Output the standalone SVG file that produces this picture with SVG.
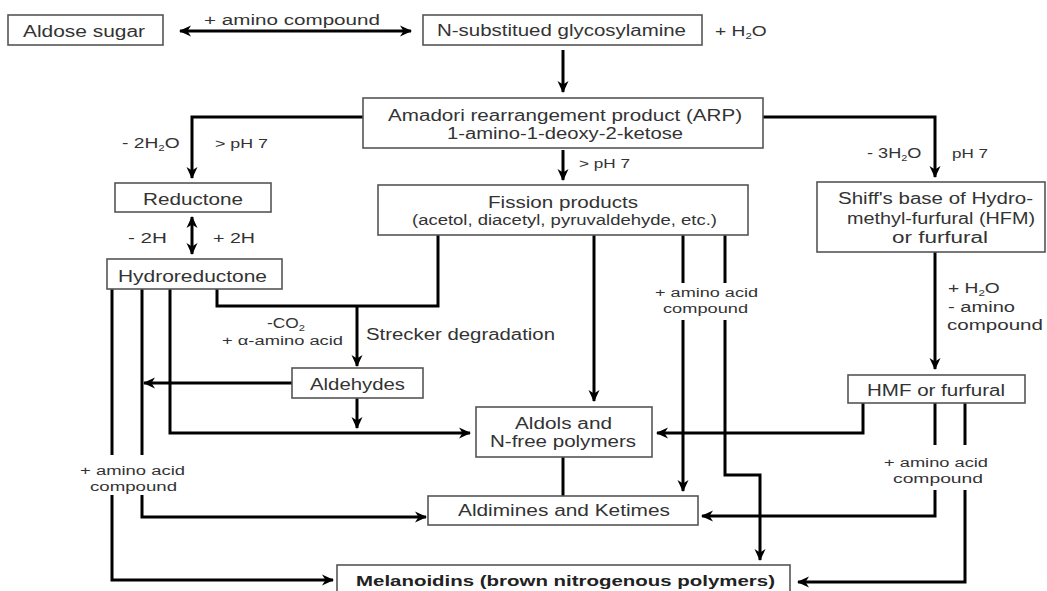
<svg xmlns="http://www.w3.org/2000/svg" width="1047" height="591" viewBox="0 0 1047 591">
<style>
.box{fill:#fff;stroke:#555;stroke-width:1.6}
.t{font-family:"Liberation Sans",Arial,sans-serif;font-size:16px;fill:#333}
.s{font-family:"Liberation Sans",Arial,sans-serif;font-size:14px;fill:#333}
.m{font-family:"Liberation Sans",Arial,sans-serif;font-size:15px;fill:#333}
.xs{font-family:"Liberation Sans",Arial,sans-serif;font-size:12.5px;fill:#333}
.b{font-family:"Liberation Sans",Arial,sans-serif;font-size:15px;font-weight:bold;fill:#222}
.c{fill:none;stroke:#000;stroke-width:3}
.a{marker-end:url(#ah)}
.aa{marker-end:url(#ah);marker-start:url(#ah)}
</style>
<defs>
<marker id="ah" viewBox="0 0 12 12" refX="11" refY="6" markerWidth="12" markerHeight="12" markerUnits="userSpaceOnUse" orient="auto-start-reverse">
<path d="M0,0.5 L12,6 L0,11.5 L3.5,6 z" fill="#000"/>
</marker>
</defs>
<rect width="1047" height="591" fill="#fff"/>

<g id="connectors">
<path class="c aa" d="M180,31 H411"/>
<path class="c a" d="M563,50 V92"/>
<path class="c a" d="M563,150 V180"/>
<path class="c a" d="M363,117 H192 V178"/>
<path class="c a" d="M763,117 H935 V177"/>
<path class="c aa" d="M192,217 V254"/>
<path class="c a" d="M935,252 V369"/>
<path class="c a" d="M863,403 V433 H657"/>
<path class="c" d="M935,403 V445"/>
<path class="c" d="M965,403 V445"/>
<path class="c a" d="M935,490 V516 H702"/>
<path class="c a" d="M965,490 V582 H798"/>
<path class="c" d="M438,235 V306 H217 V289"/>
<path class="c a" d="M357,306 V366"/>
<path class="c a" d="M594,235 V401"/>
<path class="c" d="M683,235 V283"/>
<path class="c" d="M725,235 V283"/>
<path class="c a" d="M683,320 V491"/>
<path class="c a" d="M725,320 V475 H760 V560"/>
<path class="c a" d="M170,289 V433 H470"/>
<path class="c a" d="M357,398 V428"/>
<path class="c a" d="M292,383 H144"/>
<path class="c" d="M142,289 V455"/>
<path class="c a" d="M142,495 V517 H426"/>
<path class="c" d="M112,289 V455"/>
<path class="c a" d="M112,495 V580 H333"/>
<path class="c" d="M563,457 V496"/>
</g>

<g id="labels">
<text class="s" x="204" y="25" textLength="176" lengthAdjust="spacingAndGlyphs">+ amino compound</text>
<text class="m" transform="translate(715,36) scale(1.28,1)">+ H<tspan font-size="9" dy="3">2</tspan><tspan dy="-3">O</tspan></text>
<text class="xs" x="579" y="168" textLength="51" lengthAdjust="spacingAndGlyphs">&gt; pH 7</text>
<text class="m" transform="translate(122,148) scale(1.28,1)">- 2H<tspan font-size="9" dy="3">2</tspan><tspan dy="-3">O</tspan></text>
<text class="xs" x="215" y="148" textLength="53" lengthAdjust="spacingAndGlyphs">&gt; pH 7</text>
<text class="m" transform="translate(867,158) scale(1.21,1)">- 3H<tspan font-size="9" dy="3">2</tspan><tspan dy="-3">O</tspan></text>
<text class="xs" x="952" y="158" textLength="36" lengthAdjust="spacingAndGlyphs">pH 7</text>
<text class="s" x="128" y="243" textLength="39" lengthAdjust="spacingAndGlyphs">- 2H</text>
<text class="s" x="213" y="243" textLength="42" lengthAdjust="spacingAndGlyphs">+ 2H</text>
<text class="s" transform="translate(267,328) scale(1.24,1)">-CO<tspan font-size="9" dy="3">2</tspan></text>
<text class="xs" x="222" y="345" textLength="121" lengthAdjust="spacingAndGlyphs">+ α-amino acid</text>
<text class="t" x="366" y="340" textLength="189" lengthAdjust="spacingAndGlyphs">Strecker degradation</text>
<text class="xs" x="655" y="297" textLength="103" lengthAdjust="spacingAndGlyphs">+ amino acid</text>
<text class="xs" x="663" y="313" textLength="85" lengthAdjust="spacingAndGlyphs">compound</text>
<text class="m" transform="translate(948,293) scale(1.28,1)">+ H<tspan font-size="9" dy="3">2</tspan><tspan dy="-3">O</tspan></text>
<text class="s" x="948" y="312" textLength="67" lengthAdjust="spacingAndGlyphs">- amino</text>
<text class="s" x="947" y="330" textLength="96" lengthAdjust="spacingAndGlyphs">compound</text>
<text class="xs" x="884" y="467" textLength="104" lengthAdjust="spacingAndGlyphs">+ amino acid</text>
<text class="xs" x="893" y="483" textLength="90" lengthAdjust="spacingAndGlyphs">compound</text>
<text class="xs" x="80" y="475" textLength="105" lengthAdjust="spacingAndGlyphs">+ amino acid</text>
<text class="xs" x="90" y="491" textLength="87" lengthAdjust="spacingAndGlyphs">compound</text>
</g>

<g id="aldose-sugar">
<rect class="box" x="8" y="15" width="155" height="30"/>
<text class="t" x="23" y="37" textLength="122" lengthAdjust="spacingAndGlyphs">Aldose sugar</text>
</g>
<g id="glycosylamine">
<rect class="box" x="423" y="15" width="279" height="30"/>
<text class="t" x="437" y="36" textLength="249" lengthAdjust="spacingAndGlyphs">N-substitued glycosylamine</text>
</g>
<g id="amadori">
<rect class="box" x="363" y="98" width="400" height="50"/>
<text class="t" x="388" y="121" textLength="354" lengthAdjust="spacingAndGlyphs">Amadori rearrangement product (ARP)</text>
<text class="t" x="447" y="139" textLength="236" lengthAdjust="spacingAndGlyphs">1-amino-1-deoxy-2-ketose</text>
</g>
<g id="reductone">
<rect class="box" x="115" y="183" width="156" height="29"/>
<text class="t" x="143" y="205" textLength="100" lengthAdjust="spacingAndGlyphs">Reductone</text>
</g>
<g id="hydroreductone">
<rect class="box" x="107" y="259" width="175" height="30"/>
<text class="t" x="118" y="282" textLength="149" lengthAdjust="spacingAndGlyphs">Hydroreductone</text>
</g>
<g id="fission-products">
<rect class="box" x="378" y="185" width="370" height="50"/>
<text class="t" x="488" y="208" textLength="150" lengthAdjust="spacingAndGlyphs">Fission products</text>
<text class="s" x="412" y="225" textLength="305" lengthAdjust="spacingAndGlyphs">(acetol, diacetyl, pyruvaldehyde, etc.)</text>
</g>
<g id="shiffs-base">
<rect class="box" x="817" y="182" width="228" height="70"/>
<text class="t" x="838" y="204" textLength="195" lengthAdjust="spacingAndGlyphs">Shiff's base of Hydro-</text>
<text class="t" x="847" y="224" textLength="188" lengthAdjust="spacingAndGlyphs">methyl-furfural (HFM)</text>
<text class="t" x="892" y="243" textLength="96" lengthAdjust="spacingAndGlyphs">or furfural</text>
</g>
<g id="aldehydes">
<rect class="box" x="292" y="368" width="131" height="30"/>
<text class="t" x="310" y="390" textLength="95" lengthAdjust="spacingAndGlyphs">Aldehydes</text>
</g>
<g id="aldols">
<rect class="box" x="476" y="407" width="176" height="50"/>
<text class="t" x="515" y="429" textLength="97" lengthAdjust="spacingAndGlyphs">Aldols and</text>
<text class="t" x="490" y="447" textLength="146" lengthAdjust="spacingAndGlyphs">N-free polymers</text>
</g>
<g id="hmf">
<rect class="box" x="848" y="375" width="177" height="28"/>
<text class="t" x="867" y="396" textLength="138" lengthAdjust="spacingAndGlyphs">HMF or furfural</text>
</g>
<g id="aldimines">
<rect class="box" x="428" y="496" width="270" height="29"/>
<text class="t" x="458" y="516" textLength="212" lengthAdjust="spacingAndGlyphs">Aldimines and Ketimes</text>
</g>
<g id="melanoidins">
<rect class="box" x="337" y="565" width="453" height="40"/>
<text class="b" x="356" y="586" textLength="419" lengthAdjust="spacingAndGlyphs">Melanoidins (brown nitrogenous polymers)</text>
</g>
</svg>
